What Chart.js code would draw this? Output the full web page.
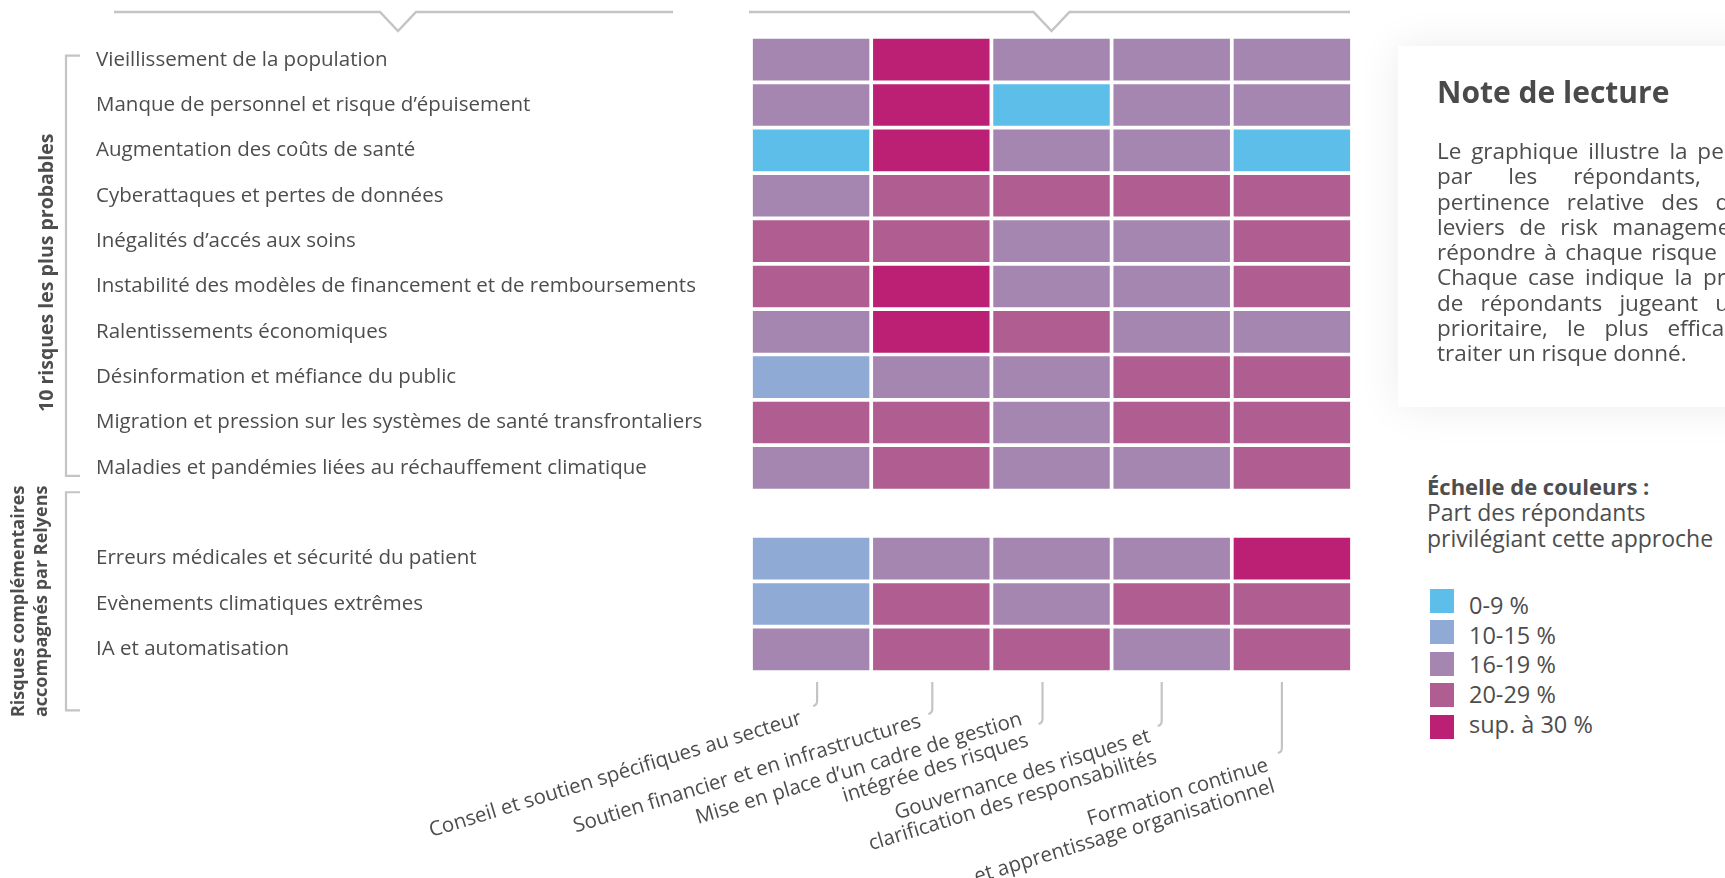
<!DOCTYPE html>
<html>
<head>
<meta charset="utf-8">
<script src="https://cdn.jsdelivr.net/npm/chart.js@4.4.0/dist/chart.umd.min.js"></script>
<style>
html, body { margin: 0; padding: 0; background: #fff; width: 1725px; height: 878px; overflow: hidden; }
body { font-family: "Open Sans", sans-serif; color: #4d4d4d; position: relative; }
#chart { position: absolute; left: 0; top: 0; }
.note { position: absolute; left: 1398px; top: 46px; width: 480px; height: 361px; background: #fff; box-shadow: 0 0 40px rgba(0,0,0,0.08); }
.note h2 { position: absolute; left: 39px; top: 25px; margin: 0; font-size: 30px; font-weight: 700; color: #4a4a4a; }
.note .txt { position: absolute; left: 39px; top: 92px; width: 380px; font-size: 22.5px; line-height: 25.3px; }
.note .txt div { white-space: nowrap; text-align: justify; text-align-last: justify; }
.note .txt div.last { text-align-last: left; }
.scale { position: absolute; left: 1427px; top: 473px; font-size: 23px; line-height: 26px; }
.scale b { display: block; font-size: 22px; }
.scale ul { list-style: none; margin: 40px 0 0 3px; padding: 0; }
.scale li { position: relative; height: 29.7px; line-height: 29.7px; padding-left: 39px; font-size: 23.5px; }
.scale li span { position: absolute; left: 0; width: 24px; height: 24px; }
</style>
</head>
<body>
<canvas id="chart" width="1400" height="878"></canvas>

<div class="note">
  <h2>Note de lecture</h2>
  <div class="txt">
    <div>Le graphique illustre la perception,</div>
    <div>par les répondants, de la</div>
    <div>pertinence relative des différents</div>
    <div>leviers de risk management pour</div>
    <div>répondre à chaque risque identifié.</div>
    <div>Chaque case indique la proportion</div>
    <div>de répondants jugeant un levier</div>
    <div>prioritaire, le plus efficace pour</div>
    <div class="last">traiter un risque donné.</div>
  </div>
</div>

<div class="scale">
  <b>Échelle de couleurs :</b>
  Part des répondants<br>privilégiant cette approche
  <ul id="legend"></ul>
</div>

<script>
// risks (rows), '' is the blank row between the two groups
var risks = [
    'Vieillissement de la population',
    'Manque de personnel et risque d’épuisement',
    'Augmentation des coûts de santé',
    'Cyberattaques et pertes de données',
    'Inégalités d’accés aux soins',
    'Instabilité des modèles de financement et de remboursements',
    'Ralentissements économiques',
    'Désinformation et méfiance du public',
    'Migration et pression sur les systèmes de santé transfrontaliers',
    'Maladies et pandémies liées au réchauffement climatique',
    '',
    'Erreurs médicales et sécurité du patient',
    'Evènements climatiques extrêmes',
    'IA et automatisation'
];

// levers (columns)
var levers = [
    ['Conseil et soutien spécifiques au secteur'],
    ['Soutien financier et en infrastructures'],
    ['Mise en place d’un cadre de gestion', 'intégrée des risques'],
    ['Gouvernance des risques et', 'clarification des responsabilités'],
    ['Formation continue', 'et apprentissage organisationnel']
];

// colour classes
var classLabels = ['0-9 %', '10-15 %', '16-19 %', '20-29 %', 'sup. à 30 %'];
var classColors = ['#5dbeea', '#8eaad5', '#a586b1', '#b05d92', '#bb2074'];

// class index of each cell, one list per lever, null = blank row
var conseil     = [2, 2, 0, 2, 3, 3, 2, 1, 3, 2, null, 1, 1, 2];
var soutien     = [4, 4, 4, 3, 3, 4, 4, 2, 3, 3, null, 2, 3, 3];
var cadre       = [2, 0, 2, 3, 2, 2, 3, 2, 2, 2, null, 2, 2, 3];
var gouvernance = [2, 2, 2, 3, 2, 2, 2, 3, 3, 2, null, 2, 3, 2];
var formation   = [2, 2, 0, 3, 3, 3, 2, 3, 3, 3, null, 4, 3, 3];

var columns = [conseil, soutien, cadre, gouvernance, formation];

// label placement under the grid (offsets from column centre / grid bottom)
var hookDx = [6, 1, -9, -10, -10];
var hookDrop = [33, 41, 51, 53, 80];
var textDx = [-10, -11, -30, -22, -24];
var textDrop = [46, 49, 47, 64, 93];

var grey = '#c4c4c6';
var textColor = '#4d4d4d';

function chevron(ctx, x1, x2, xm, y) {
    ctx.beginPath();
    ctx.moveTo(x1, y);
    ctx.lineTo(xm - 18, y);
    ctx.lineTo(xm, y + 19);
    ctx.lineTo(xm + 18, y);
    ctx.lineTo(x2, y);
    ctx.stroke();
}

function bracket(ctx, x, top, bottom) {
    ctx.beginPath();
    ctx.moveTo(x + 14, top);
    ctx.lineTo(x, top);
    ctx.lineTo(x, bottom);
    ctx.lineTo(x + 14, bottom);
    ctx.stroke();
}

var decor = {
    id: 'decor',
    afterDraw: function(chart) {
        var ctx = chart.ctx;
        var area = chart.chartArea;
        var xs = chart.scales.x;
        var ys = chart.scales.y;
        ctx.save();
        ctx.strokeStyle = grey;
        ctx.lineWidth = 2.5;

        // top chevrons
        chevron(ctx, ys.left + 18, area.left - 78, ys.left + 302, 12);
        chevron(ctx, area.left - 2, area.right - 2, (area.left + area.right) / 2, 12);

        // group brackets
        var b1top = ys.getPixelForValue(0) - 4, b1bot = ys.getPixelForValue(9) + 8;
        var b2top = ys.getPixelForValue(10) - 21, b2bot = ys.getPixelForValue(13) + 61;
        ctx.lineWidth = 2.2;
        bracket(ctx, 66, b1top, b1bot);
        bracket(ctx, 66, b2top, b2bot);

        // group titles
        ctx.fillStyle = textColor;
        ctx.textAlign = 'center';
        ctx.textBaseline = 'middle';
        ctx.save();
        ctx.font = 'bold 19.5px "Open Sans"';
        ctx.translate(47, (b1top + b1bot) / 2 + 7);
        ctx.rotate(-Math.PI / 2);
        ctx.fillText('10 risques les plus probables', 0, 0);
        ctx.restore();
        ctx.save();
        ctx.font = 'bold 18px "Open Sans"';
        ctx.translate(19, (b2top + b2bot) / 2);
        ctx.rotate(-Math.PI / 2);
        ctx.fillText('Risques complémentaires', 0, 0);
        ctx.fillText('accompagnés par Relyens', 0, 23);
        ctx.restore();

        // lever labels with hooks
        ctx.font = '20.5px "Open Sans"';
        ctx.textAlign = 'right';
        levers.forEach(function(lines, i) {
            var cx = xs.getPixelForValue(i + 0.5);
            var hx = cx + hookDx[i];
            var top = area.bottom + 10, bot = area.bottom + hookDrop[i];
            ctx.beginPath();
            ctx.moveTo(hx, top);
            ctx.lineTo(hx, bot - 4);
            ctx.quadraticCurveTo(hx, bot, hx - 4, bot + 1);
            ctx.stroke();

            ctx.save();
            ctx.translate(cx + textDx[i], area.bottom + textDrop[i]);
            ctx.rotate(-17 * Math.PI / 180);
            lines.forEach(function(line, j) {
                ctx.fillText(line, 0, j * 22);
            });
            ctx.restore();
        });
        ctx.restore();
    }
};

var datasets = columns.map(function(col, i) {
    return {
        label: levers[i].join(' '),
        data: col.map(function(v) { return v === null ? null : 1; }),
        backgroundColor: col.map(function(v) { return v === null ? 'rgba(0,0,0,0)' : classColors[v]; }),
        borderColor: '#ffffff',
        borderWidth: 2.2,
        borderSkipped: false,
        barPercentage: 1,
        categoryPercentage: 1
    };
});

var ctx1 = document.getElementById('chart').getContext('2d');
var chart1 = new Chart(ctx1, {
    type: 'bar',
    data: {
        labels: risks,
        datasets: datasets
    },
    options: {
        indexAxis: 'y',
        responsive: false,
        animation: false,
        layout: { padding: { left: 96, right: 48, top: 37, bottom: 206 } },
        plugins: {
            legend: { display: false },
            tooltip: { enabled: false }
        },
        scales: {
            x: { stacked: true, min: 0, max: 5, display: false },
            y: {
                stacked: true,
                grid: { display: false },
                border: { display: false },
                ticks: {
                    autoSkip: false,
                    crossAlign: 'far',
                    color: textColor,
                    font: { family: '"Open Sans"', size: 20.5 }
                },
                afterFit: function(scale) { scale.width = 655; }
            }
        }
    },
    plugins: [decor]
});

// colour scale legend (swatches sit on a slightly wider pitch than the text)
var legend = document.getElementById('legend');
classLabels.forEach(function(lab, i) {
    var li = document.createElement('li');
    li.innerHTML = '<span style="top:' + (-2.5 + 1.9 * i) + 'px;background:' + classColors[i] + '"></span>' + lab;
    legend.appendChild(li);
});
</script>
</body>
</html>
